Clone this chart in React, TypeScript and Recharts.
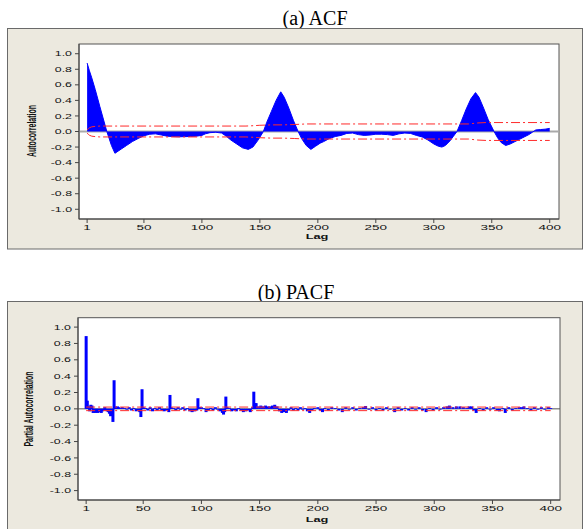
import React from 'react';
import {
  ComposedChart,
  Area,
  Bar,
  Line,
  XAxis,
  YAxis,
} from 'recharts';

// ACF (a): lag / autocorrelation
const acfLags = [1, 3, 5, 8, 10, 12, 15, 18, 20, 22, 25, 28, 31, 35, 40, 45, 50, 55, 60, 65, 70, 75, 80, 85, 90, 95, 100, 103, 107, 112, 117, 121, 125, 130, 135, 140, 144, 148, 151, 153, 156, 160, 164, 168, 171, 175, 179, 183, 186, 190, 194, 198, 202, 205, 210, 215, 220, 225, 230, 235, 240, 245, 250, 255, 260, 265, 270, 275, 280, 285, 290, 295, 300, 304, 307, 310, 314, 317, 320, 324, 328, 332, 336, 339, 343, 347, 352, 355, 358, 362, 366, 370, 374, 378, 382, 385, 388, 392, 396, 400];
const acfValues = [0.88, 0.78, 0.69, 0.54, 0.43, 0.32, 0.16, 0.0, -0.09, -0.18, -0.28, -0.25, -0.22, -0.18, -0.13, -0.09, -0.055, -0.035, -0.03, -0.045, -0.06, -0.065, -0.068, -0.066, -0.064, -0.06, -0.05, -0.03, -0.015, -0.01, -0.02, -0.06, -0.11, -0.16, -0.21, -0.23, -0.2, -0.12, -0.05, 0.0, 0.12, 0.26, 0.4, 0.51, 0.44, 0.3, 0.14, 0.0, -0.09, -0.18, -0.23, -0.19, -0.15, -0.13, -0.09, -0.065, -0.05, -0.025, -0.02, -0.04, -0.05, -0.045, -0.035, -0.035, -0.04, -0.05, -0.03, -0.02, -0.025, -0.05, -0.07, -0.11, -0.16, -0.19, -0.2, -0.18, -0.12, -0.06, 0.0, 0.14, 0.29, 0.42, 0.5, 0.44, 0.3, 0.15, 0.0, -0.08, -0.14, -0.18, -0.16, -0.13, -0.1, -0.07, -0.04, -0.01, 0.02, 0.025, 0.03, 0.04];

// ACF significance limits
const confLags = [1, 2, 3, 5, 8, 12, 138, 145, 150, 160, 170, 180, 190, 198, 330, 338, 345, 400];
const confUpper = [0.022, 0.035, 0.048, 0.06, 0.066, 0.07, 0.07, 0.075, 0.08, 0.085, 0.085, 0.09, 0.097, 0.097, 0.097, 0.11, 0.115, 0.115];
const confLower = [-0.022, -0.035, -0.048, -0.06, -0.066, -0.07, -0.07, -0.075, -0.08, -0.085, -0.085, -0.09, -0.097, -0.097, -0.097, -0.11, -0.115, -0.115];

// PACF (b)
const pacfLags = [1, 2, 3, 4, 5, 6, 7, 8, 9, 10, 11, 12, 13, 14, 15, 16, 17, 18, 19, 20, 21, 22, 23, 24, 25, 26, 27, 28, 29, 30, 32, 34, 36, 38, 40, 42, 44, 46, 47, 48, 49, 50, 52, 54, 56, 58, 60, 62, 64, 66, 68, 70, 72, 73, 74, 76, 78, 80, 82, 84, 86, 88, 90, 92, 94, 96, 97, 98, 100, 102, 104, 106, 108, 110, 112, 114, 116, 118, 119, 120, 121, 122, 124, 126, 128, 130, 132, 134, 136, 138, 140, 142, 144, 145, 146, 147, 149, 151, 153, 155, 157, 159, 161, 163, 165, 167, 169, 171, 173, 175, 177, 179, 181, 183, 185, 187, 189, 191, 193, 195, 197, 200, 202, 204, 206, 209, 212, 215, 218, 221, 224, 227, 230, 233, 236, 239, 241, 244, 247, 250, 253, 256, 259, 262, 266, 269, 272, 275, 278, 281, 284, 287, 290, 293, 296, 299, 302, 305, 308, 311, 313, 316, 319, 322, 325, 328, 330, 332, 334, 336, 339, 342, 345, 348, 351, 354, 356, 359, 361, 364, 367, 370, 373, 375, 377, 380, 383, 386, 389, 392, 395, 398, 400];
const pacfValues = [0.89, 0.1, 0.03, -0.03, 0.05, 0.04, -0.05, -0.04, -0.05, -0.03, -0.05, -0.04, -0.03, -0.05, -0.03, -0.02, 0.02, -0.02, -0.03, -0.04, -0.06, -0.09, -0.04, -0.16, 0.35, 0.03, 0.02, 0.03, 0.02, 0.01, 0.02, 0.01, -0.01, 0.02, -0.02, 0.01, -0.03, -0.02, -0.04, -0.1, 0.24, 0.02, 0.01, -0.02, 0.02, -0.03, 0.01, -0.02, 0.02, -0.02, -0.03, -0.02, -0.04, 0.17, 0.02, 0.01, -0.02, 0.02, -0.01, 0.02, -0.02, 0.01, -0.03, -0.04, -0.03, -0.02, 0.13, 0.02, 0.02, 0.01, -0.04, -0.02, 0.01, -0.02, 0.02, -0.01, -0.03, -0.05, -0.07, -0.04, 0.15, 0.02, 0.01, -0.03, -0.02, -0.03, 0.01, -0.02, -0.04, -0.03, -0.02, -0.04, 0.02, 0.21, 0.07, 0.07, 0.03, 0.04, 0.03, 0.04, 0.03, 0.03, 0.04, 0.05, 0.03, -0.03, -0.05, -0.04, -0.05, -0.02, 0.02, -0.02, 0.01, -0.02, 0.02, -0.01, 0.01, -0.03, -0.05, -0.02, 0.01, 0.02, -0.02, -0.04, 0.01, -0.02, 0.02, 0.01, -0.02, -0.04, 0.02, -0.01, 0.02, -0.02, 0.01, 0.02, 0.035, -0.01, 0.02, -0.02, 0.01, -0.02, 0.02, -0.01, -0.04, 0.02, -0.02, 0.01, -0.02, 0.02, -0.01, 0.02, -0.02, -0.04, 0.01, -0.02, 0.02, -0.01, 0.02, 0.03, 0.04, 0.02, 0.03, 0.03, 0.02, 0.01, 0.03, 0.03, -0.02, -0.05, 0.01, -0.02, 0.02, -0.01, 0.02, -0.02, -0.03, 0.01, -0.05, 0.02, -0.02, 0.01, 0.02, 0.02, 0.03, 0.01, -0.02, 0.02, -0.01, 0.02, -0.01, 0.02, 0.01];

const pacfConfLags = [1, 400];
const pacfConfUpper = [0.022, 0.022];
const pacfConfLower = [-0.022, -0.022];

// zero reference across the whole plot
const zeroLags = [-6, 408];
const zeroValues = [0, 0];

const lagTicks = [1, 50, 100, 150, 200, 250, 300, 350, 400];
const corrTicks = [-1, -0.8, -0.6, -0.4, -0.2, 0, 0.2, 0.4, 0.6, 0.8, 1];

const acfData = acfLags.map((lag, i) => ({ lag, v: acfValues[i] }));
const acfUpper = confLags.map((lag, i) => ({ lag, v: confUpper[i] }));
const acfLower = confLags.map((lag, i) => ({ lag, v: confLower[i] }));
const pacfData = pacfLags.map((lag, i) => ({ lag, v: pacfValues[i] }));
const pacfUpper = pacfConfLags.map((lag, i) => ({ lag, v: pacfConfUpper[i] }));
const pacfLower = pacfConfLags.map((lag, i) => ({ lag, v: pacfConfLower[i] }));
const zeroData = zeroLags.map((lag, i) => ({ lag, v: zeroValues[i] }));

const SANS = '"Liberation Sans", Arial, sans-serif';
const SERIF = '"Liberation Serif", "Times New Roman", serif';
const BLUE = '#0000ff';
const RED = '#ff2a2a';
const FRAME = '#ece9df';

// the original figure is stretched sideways, so text is widened
const XTick = (props: any) => {
  const { x, y, payload } = props;
  return (
    <text transform={`translate(${x},${y}) scale(1.8,1)`} textAnchor="middle" dy="0.71em" fontSize={7.5} fontFamily={SANS} fill="#111">
      {payload.value}
    </text>
  );
};

const YTick = (props: any) => {
  const { x, y, payload } = props;
  return (
    <text transform={`translate(${x},${y}) scale(1.65,1)`} textAnchor="end" dy="0.35em" fontSize={7.5} fontFamily={SANS} fill="#111">
      {Number(payload.value).toFixed(1)}
    </text>
  );
};

// thin spike, a few pixels wide, centred on the lag
const Spike = (props: any) => {
  const { x, y, width, height } = props;
  const top = Math.min(y, y + height);
  return <rect x={x + width / 2 - 1.5} y={top} width={3} height={Math.max(Math.abs(height), 0.8)} fill={BLUE} />;
};

const dash = '9 3 2 3';

export default function App() {
  return (
    <div style={{ position: 'absolute', left: 0, top: 0, width: 583, height: 529, background: '#fff', overflow: 'hidden' }}>
      <svg width={583} height={529} style={{ position: 'absolute', left: 0, top: 0 }}>
        <text x={315} y={25} textAnchor="middle" fontSize={20} fontFamily={SERIF} fill="#000">(a) ACF</text>
        <rect x={7.5} y={28.5} width={575} height={220.5} fill={FRAME} stroke="#6a6a6a" />
        <rect x={79} y={44} width={480} height={175} fill="#fff" stroke="#555" />
        <text transform="translate(36,131) scale(1.8,1) rotate(-90)" textAnchor="middle" fontSize={7} fontWeight="bold" fontFamily={SANS} fill="#111">Autocorrelation</text>
        <text transform="translate(317,239) scale(1.6,1)" textAnchor="middle" fontSize={8} fontWeight="bold" fontFamily={SANS} fill="#111">Lag</text>

        <text x={296} y={299} textAnchor="middle" fontSize={20} fontFamily={SERIF} fill="#000">(b) PACF</text>
        <rect x={7.5} y={301.5} width={575} height={240} fill={FRAME} stroke="#6a6a6a" />
        <rect x={78} y={317.7} width={482} height={182.3} fill="#fff" stroke="#555" />
        <text transform="translate(33,409) scale(1.8,1) rotate(-90)" textAnchor="middle" fontSize={7} fontWeight="bold" fontFamily={SANS} fill="#111">Partial Autocorrelation</text>
        <text transform="translate(317,522) scale(1.6,1)" textAnchor="middle" fontSize={8} fontWeight="bold" fontFamily={SANS} fill="#111">Lag</text>
      </svg>

      <div style={{ position: 'absolute', left: 0, top: 0 }}>
        <ComposedChart width={583} height={250} margin={{ top: 44, right: 24, bottom: 0, left: 0 }}>
          <XAxis type="number" dataKey="lag" domain={[-6, 408]} ticks={lagTicks} allowDataOverflow interval={0}
            height={31} tickSize={4} tickMargin={2} tick={<XTick />} stroke="#444" />
          <YAxis type="number" domain={[-1.125, 1.125]} ticks={corrTicks} allowDataOverflow interval={0}
            width={79} tickSize={4} tickMargin={3} tick={<YTick />} stroke="#444" />
          <Area data={zeroData} dataKey="v" type="linear" stroke="#a9a9a9" strokeWidth={2} fill="none"
            dot={false} activeDot={false} isAnimationActive={false} />
          <Area data={acfData} dataKey="v" type="linear" stroke={BLUE} strokeWidth={1} fill={BLUE} fillOpacity={1}
            dot={false} activeDot={false} isAnimationActive={false} />
          <Line data={acfUpper} dataKey="v" type="linear" stroke={RED} strokeWidth={1} strokeDasharray={dash}
            dot={false} activeDot={false} isAnimationActive={false} />
          <Line data={acfLower} dataKey="v" type="linear" stroke={RED} strokeWidth={1} strokeDasharray={dash}
            dot={false} activeDot={false} isAnimationActive={false} />
        </ComposedChart>
      </div>

      <div style={{ position: 'absolute', left: 0, top: 300 }}>
        <ComposedChart width={583} height={229} data={pacfData} margin={{ top: 17.7, right: 23, bottom: 0, left: 0 }}>
          <XAxis type="number" dataKey="lag" domain={[-6, 408]} ticks={lagTicks} allowDataOverflow interval={0}
            height={29} tickSize={4} tickMargin={2} tick={<XTick />} stroke="#444" />
          <YAxis type="number" domain={[-1.115, 1.115]} ticks={corrTicks} allowDataOverflow interval={0}
            width={78} tickSize={4} tickMargin={3} tick={<YTick />} stroke="#444" />
          <Area data={zeroData} dataKey="v" type="linear" stroke="#555" strokeWidth={1} fill="none"
            dot={false} activeDot={false} isAnimationActive={false} />
          <Bar dataKey="v" fill={BLUE} shape={<Spike />} isAnimationActive={false} />
          <Line data={pacfUpper} dataKey="v" type="linear" stroke={RED} strokeWidth={1} strokeDasharray={dash}
            dot={false} activeDot={false} isAnimationActive={false} />
          <Line data={pacfLower} dataKey="v" type="linear" stroke={RED} strokeWidth={1} strokeDasharray={dash}
            dot={false} activeDot={false} isAnimationActive={false} />
        </ComposedChart>
      </div>
    </div>
  );
}
